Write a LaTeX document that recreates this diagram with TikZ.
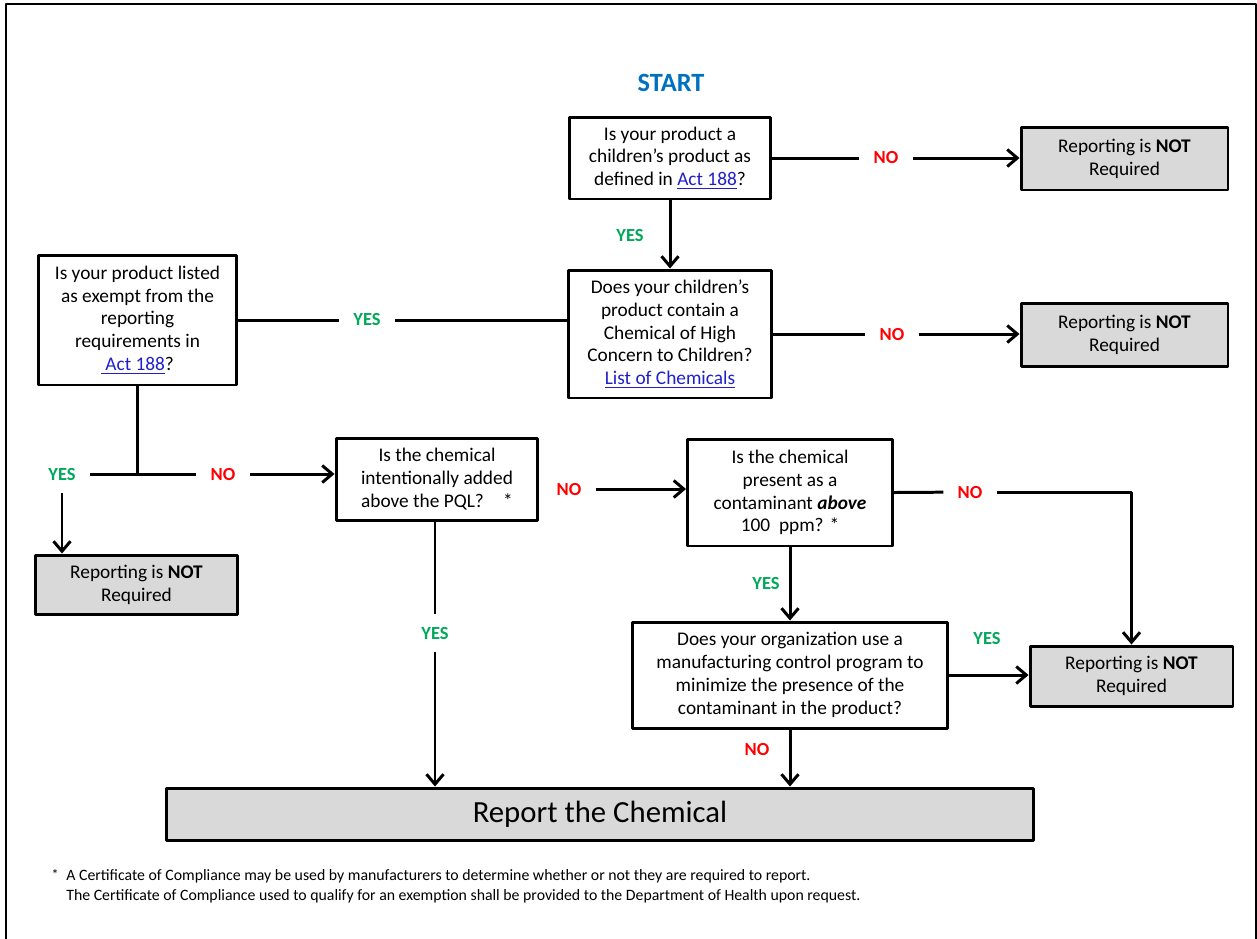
\documentclass[tikz,border=0pt]{standalone}
\usepackage{fontspec}
\setmainfont{Carlito}
\usetikzlibrary{arrows.meta}
\definecolor{startblue}{HTML}{0070C0}
\definecolor{yesgreen}{HTML}{00A859}
\definecolor{nored}{HTML}{FF0000}
\definecolor{linkblue}{HTML}{2020C8}
\definecolor{boxgrey}{HTML}{D9D9D9}
\newcommand{\actlink}[1]{\textcolor{linkblue}{\underline{#1}}}
\begin{document}
\begin{tikzpicture}[x=0.02cm, y=-0.02cm, line join=round, >={Straight Barb[length=2mm,width=3.4mm]},
		line/.style={line width=1.7pt},
		arr/.style={line, ->},
		qbox/.style={draw, line width=1.7pt, align=center, inner sep=2pt, font=\fontsize{11}{13}\selectfont},
		stopbox/.style={qbox, fill=boxgrey},
		yeslbl/.style={text=yesgreen, font=\fontsize{10.5}{12}\selectfont\bfseries, inner xsep=8pt, inner ysep=7pt},
		nolbl/.style={yeslbl, text=nored},
		notetext/.style={anchor=north west, inner sep=0pt, align=left, font=\fontsize{9}{11.3}\selectfont}]
	\useasboundingbox (0,0) rectangle (1257,938);
	\draw[line width=1.2pt] (6,950)--(6,4)--(1256,4)--(1256,950);
	% boxes
	\node[text=startblue, font=\fontsize{15}{17}\selectfont\bfseries] (start) at (671,83) {START};
	\node[qbox, minimum width=4.04cm, minimum height=1.64cm] (q1) at (670,158) {Is your product a\\children’s product as\\defined in \actlink{Act 188}?};
	\node[stopbox, minimum width=4.14cm, minimum height=1.26cm] (r1) at (1124.5,158.5) {Reporting is \textbf{NOT}\\Required};
	\node[qbox, minimum width=4.08cm, minimum height=2.56cm] (q2) at (670,334) {Does your children’s\\product contain a\\Chemical of High\\Concern to Children?\\\actlink{List of Chemicals}};
	\node[stopbox, minimum width=4.14cm, minimum height=1.26cm] (r2) at (1124.5,334.5) {Reporting is \textbf{NOT}\\Required};
	\node[qbox, minimum width=3.98cm, minimum height=2.6cm] (q3) at (137.5,320) {Is your product listed\\as exempt from the\\reporting\\requirements in\\\actlink{\ Act 188}?};
	\node[stopbox, minimum width=4.06cm, minimum height=1.18cm] (r3) at (136.5,584.5) {Reporting is \textbf{NOT}\\Required};
	\node[qbox, minimum width=4.04cm, minimum height=1.64cm] (q4) at (437,479) {Is the chemical\\intentionally added\\above the PQL?\quad *};
	\node[qbox, minimum width=4.1cm, minimum height=2.14cm] (q5) at (790,492.5) {Is the chemical\\present as a\\contaminant \textbf{\textit{above}}\\100\ \ ppm? *};
	\node[qbox, minimum width=6.32cm, minimum height=2.12cm] (q6) at (790,675) {Does your organization use a\\manufacturing control program to\\minimize the presence of the\\contaminant in the product?};
	\node[stopbox, minimum width=4.06cm, minimum height=1.2cm] (r4) at (1131.5,676) {Reporting is \textbf{NOT}\\Required};
	\node[stopbox, minimum width=17.36cm, minimum height=1.04cm, font=\fontsize{17.5}{20}\selectfont] (rep) at (600,814) {Report the Chemical};
	% labels
	\node[nolbl] (n1) at (886,158) {NO};
	\node[yeslbl] (y1) at (630,236) {YES};
	\node[yeslbl] (y2) at (367,320) {YES};
	\node[nolbl] (n2) at (892,334) {NO};
	\node[yeslbl] (y3) at (62,474) {YES};
	\node[nolbl] (n3) at (223,474) {NO};
	\node[nolbl] (n4) at (569,489) {NO};
	\node[yeslbl] (y4) at (435,633) {YES};
	\node[nolbl] (n5) at (970,492) {NO};
	\node[yeslbl] (y5) at (766,583) {YES};
	\node[yeslbl] (y6) at (987,638) {YES};
	\node[nolbl] (n6) at (757,749) {NO};
	% connectors
	\draw[line] (q1.east) -- (n1);
	\draw[arr] (n1) -- (n1 -| r1.west);
	\draw[arr] (q1) -- (q2);
	\draw[line] (q3.east) -- (y2);
	\draw[line] (y2) -- (y2 -| q2.west);
	\draw[line] (q2.east) -- (n2);
	\draw[arr] (n2) -- (n2 -| r2.west);
	\draw[line] (q3.south) -- (q3.south |- y3);
	\draw[line] (y3) -- (n3);
	\draw[arr] (n3) -- (n3 -| q4.west);
	\draw[arr] (y3) -- (y3 |- r3.north);
	\draw[arr] (n4) -- (n4 -| q5.west);
	\draw[line] (q4.south -| y4) -- (y4);
	\draw[arr] (y4) -- (y4 |- rep.north);
	\draw[line] (q5.east) -- (n5);
	\draw[arr] (n5) -| (r4.north);
	\draw[arr] (q5) -- (q6);
	\draw[arr] (q6.east) -- (q6.east -| r4.west);
	\draw[arr] (q6.south) -- (q6.south |- rep.north);
	% footnote
	\node[notetext] (note) at (66,869) {A Certificate of Compliance may be used by manufacturers to determine whether or not they are required to report.\\The Certificate of Compliance used to qualify for an exemption shall be provided to the Department of Health upon request.};
	\node[notetext, anchor=north east, font=\fontsize{8}{9}\selectfont] (star) at ([xshift=-4pt]note.north west) {*};
\end{tikzpicture}
\end{document}
